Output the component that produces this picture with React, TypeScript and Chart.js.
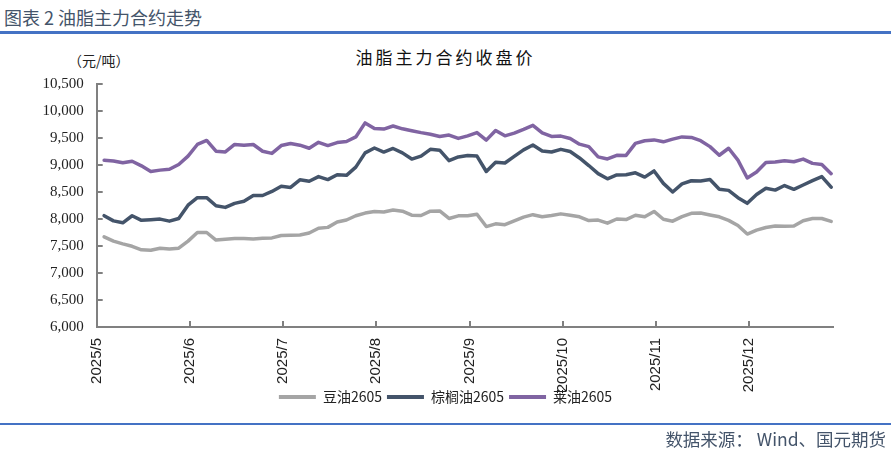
import React, { useEffect, useRef } from "react";
import { Chart, registerables } from "chart.js";

Chart.register(...registerables);

const monthLabels = ["2025/5", "2025/6", "2025/7", "2025/8", "2025/9", "2025/10", "2025/11", "2025/12"];
const seriesNames = ["豆油2605", "棕榈油2605", "莱油2605"];
const seriesColors = ["#A5A5A5", "#44546A", "#8064A2"];

// sample positions in month units (0 = 2025/5 tick), one sample per 0.1 month
const firstSample = 0.08;
const sampleStep = 0.1;

const soyOil = [
  7670, 7590, 7540, 7495, 7430, 7420, 7459, 7445, 7460, 7590,
  7750, 7750, 7610, 7627, 7640, 7640, 7630, 7645, 7650, 7695,
  7700, 7705, 7740, 7830, 7845, 7945, 7981, 8060, 8110, 8140,
  8130, 8165, 8145, 8070, 8065, 8145, 8150, 8010, 8058, 8060,
  8088, 7860, 7910, 7894, 7965, 8035, 8080, 8043, 8065, 8095,
  8070, 8040, 7970, 7980, 7922, 8000, 7990, 8070, 8043, 8140,
  7995, 7960, 8045, 8105, 8112, 8075, 8040, 7975, 7880, 7722,
  7794, 7843, 7870, 7865, 7870, 7968, 8010, 8010, 7956,
];

const palmOil = [
  8062, 7965, 7930, 8060, 7975, 7985, 7998, 7960, 8010, 8255,
  8395, 8395, 8245, 8215, 8290, 8328, 8434, 8435, 8510, 8605,
  8585, 8725, 8700, 8785, 8730, 8820, 8808, 8960, 9224, 9315,
  9240, 9306, 9225, 9110, 9165, 9290, 9275, 9080, 9150, 9175,
  9165, 8880, 9050, 9037, 9160, 9280, 9370, 9258, 9240, 9290,
  9250, 9130, 8990, 8840, 8745, 8815, 8820, 8855, 8776, 8890,
  8660, 8500, 8650, 8708, 8705, 8730, 8550, 8530, 8395, 8290,
  8453, 8570, 8535, 8620, 8550, 8630, 8710, 8785, 8590,
];

const rapeOil = [
  9090, 9075, 9040, 9070, 8985, 8880, 8905, 8920, 9010, 9165,
  9380, 9455, 9255, 9242, 9380, 9365, 9380, 9255, 9215, 9360,
  9399, 9367, 9310, 9420, 9360, 9415, 9435, 9520, 9780, 9675,
  9665, 9722, 9670, 9634, 9600, 9570, 9528, 9555, 9492, 9540,
  9600, 9460, 9640, 9540, 9590, 9660, 9735, 9595, 9530, 9535,
  9490, 9386, 9340, 9150, 9112, 9180, 9178, 9400, 9448, 9465,
  9429, 9480, 9520, 9511, 9450, 9340, 9181, 9310, 9090, 8760,
  8869, 9045, 9056, 9080, 9060, 9110, 9030, 9010, 8840,
];

const yMin = 6000;
const yMax = 10500;
const yStep = 500;
const xMax = 7.9;

function toPoints(values: number[]) {
  return values.map((v, i) => ({ x: firstSample + i * sampleStep, y: v }));
}

// centre the legend on the full canvas width and tuck it up under the axis labels
const legendPlacePlugin = {
  id: "legendPlace",
  afterUpdate(chart: any) {
    const lg = chart.legend;
    if (lg) {
      lg.left = 0;
      lg.right = chart.width;
      lg.top -= 12;
      lg.bottom -= 12;
    }
  },
};

function OilChart() {
  const ref = useRef<HTMLCanvasElement | null>(null);
  useEffect(() => {
    if (!ref.current) return;
    const all = [soyOil, palmOil, rapeOil];
    const chart = new Chart(ref.current, {
      type: "line",
      data: {
        datasets: all.map((vals, i) => ({
          label: seriesNames[i],
          data: toPoints(vals),
          borderColor: seriesColors[i],
          backgroundColor: seriesColors[i],
          borderWidth: 3.5,
          pointRadius: 0,
          tension: 0,
          borderJoinStyle: "round" as const,
          borderCapStyle: "round" as const,
        })),
      },
      plugins: [legendPlacePlugin],
      options: {
        animation: false,
        responsive: true,
        maintainAspectRatio: false,
        layout: { padding: { top: 0, right: 58, bottom: 3, left: 0 } },
        plugins: {
          tooltip: { enabled: false },
          title: { display: false },
          legend: {
            display: true,
            position: "bottom",
            labels: {
              boxWidth: 37,
              boxHeight: 4,
              padding: 5,
              color: "#222",
              font: { family: "'Noto Sans CJK SC', 'Noto Sans', sans-serif", size: 14 },
              generateLabels: (c: any) =>
                c.data.datasets.map((ds: any, i: number) => ({
                  text: ds.label,
                  fillStyle: ds.borderColor,
                  strokeStyle: ds.borderColor,
                  lineWidth: 0,
                  hidden: false,
                  datasetIndex: i,
                  fontColor: "#222",
                })),
            },
          },
        },
        scales: {
          x: {
            type: "linear",
            min: 0,
            max: xMax,
            afterFit: (s: any) => {
              s.height = 70;
            },
            afterBuildTicks: (s: any) => {
              s.ticks = monthLabels.map((_, i) => ({ value: i }));
            },
            grid: {
              display: true,
              drawOnChartArea: false,
              drawTicks: true,
              tickLength: -6,
              color: "#808080",
              lineWidth: 2,
            },
            border: { display: true, color: "#808080", width: 2 },
            ticks: {
              autoSkip: false,
              minRotation: 90,
              maxRotation: 90,
              padding: 17,
              color: "#222",
              font: { family: "'Liberation Sans', Arial, sans-serif", size: 15 },
              callback: (v: any) => monthLabels[Math.round(Number(v))] ?? "",
            },
          },
          y: {
            min: yMin,
            max: yMax,
            afterFit: (s: any) => {
              s.width = 96.7;
            },
            grid: {
              display: true,
              drawOnChartArea: false,
              drawTicks: true,
              tickLength: -6,
              color: "#808080",
              lineWidth: 2,
            },
            border: { display: true, color: "#808080", width: 2 },
            ticks: {
              stepSize: yStep,
              padding: 19,
              color: "#222",
              font: { family: "'Liberation Serif', 'Times New Roman', serif", size: 15 },
              callback: (v: any) => Number(v).toLocaleString("en-US"),
            },
          },
        },
      },
    });
    return () => chart.destroy();
  }, []);
  return <canvas ref={ref} />;
}

export default function App() {
  const cjk = "'Noto Sans CJK SC', 'Noto Sans', sans-serif";
  return (
    <div
      style={{
        position: "absolute",
        left: 0,
        top: 0,
        width: 891,
        height: 451,
        background: "#fff",
        overflow: "hidden",
        fontFamily: cjk,
      }}
    >
      <div
        style={{
          position: "absolute",
          left: 4,
          top: 5,
          fontSize: 18,
          lineHeight: "24px",
          color: "#44546A",
          whiteSpace: "nowrap",
        }}
      >
        图表 2 油脂主力合约走势
      </div>
      <div style={{ position: "absolute", left: 0, top: 31, width: 891, height: 2.5, background: "#4472C4" }} />
      <div
        style={{
          position: "absolute",
          left: 0,
          width: 891,
          top: 45,
          textAlign: "center",
          fontSize: 17,
          letterSpacing: 3,
          lineHeight: "24px",
          color: "#111",
        }}
      >
        油脂主力合约收盘价
      </div>
      <div
        style={{
          position: "absolute",
          left: 68,
          top: 50,
          fontSize: 14,
          lineHeight: "20px",
          color: "#222",
          whiteSpace: "nowrap",
        }}
      >
        （元/吨）
      </div>
      <div style={{ position: "absolute", left: 0, top: 56, width: 891, height: 373 }}>
        <OilChart />
      </div>
      <div style={{ position: "absolute", left: 0, top: 423, width: 891, height: 2, background: "#4472C4" }} />
      <div
        style={{
          position: "absolute",
          right: 5,
          top: 427,
          fontSize: 17.5,
          lineHeight: "24px",
          color: "#44546A",
          whiteSpace: "nowrap",
        }}
      >
        数据来源： Wind、国元期货
      </div>
    </div>
  );
}
